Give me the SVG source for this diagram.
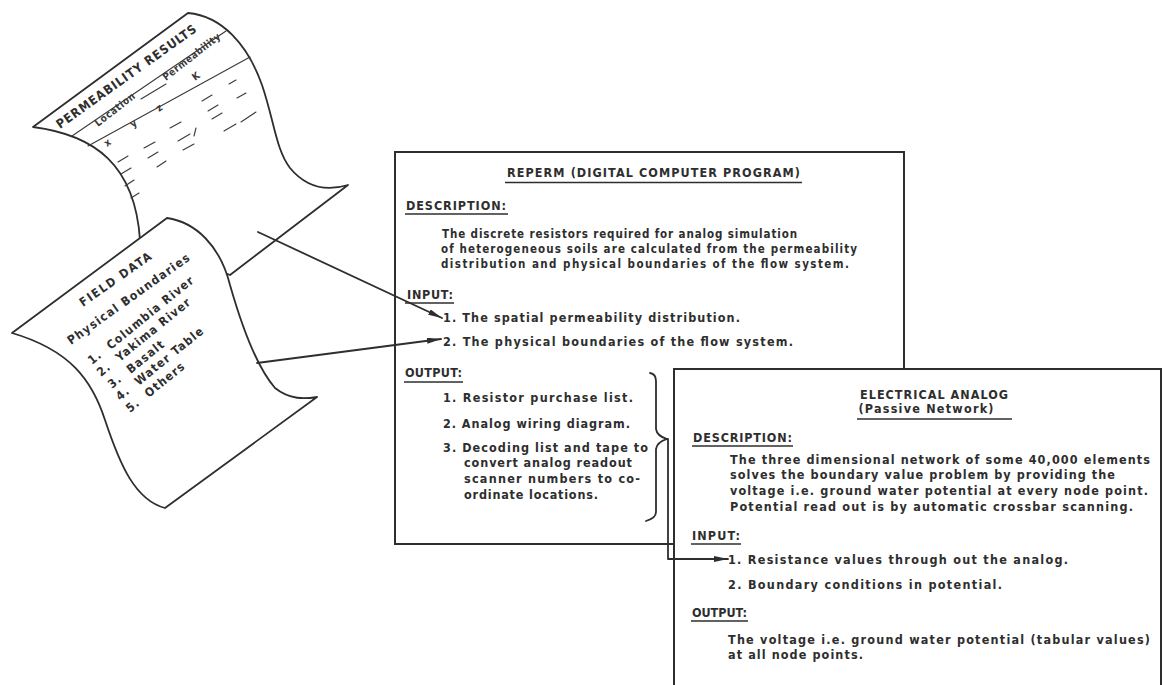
<svg xmlns="http://www.w3.org/2000/svg" width="1163" height="685" viewBox="0 0 1163 685">
  <defs>
    <style>
      .ln { fill: none; stroke: #2e2e2e; stroke-width: 1.8; stroke-linecap: round; stroke-linejoin: round; }
      .thin { fill: none; stroke: #3a3a3a; stroke-width: 1.1; stroke-linecap: round; }
      .box { fill: #ffffff; stroke: #2e2e2e; stroke-width: 2; }
      .sheet { fill: #ffffff; stroke: #2e2e2e; stroke-width: 1.8; stroke-linejoin: round; }
      .t { font-family: "DejaVu Sans Condensed", "Liberation Sans Narrow", "DejaVu Sans", sans-serif; font-weight: bold; font-size: 12.5px; fill: #2e2e2e; }
      .td { font-size: 11.5px; }
      .ts { font-family: "DejaVu Sans Condensed", "DejaVu Sans", sans-serif; font-weight: bold; font-size: 12px; fill: #2e2e2e; letter-spacing: 1.2px; }
      .tx { font-family: "DejaVu Sans Condensed", "DejaVu Sans", sans-serif; font-weight: bold; font-size: 10px; fill: #3a3a3a; }
      .ul { stroke: #2e2e2e; stroke-width: 1.4; }
    </style>
    <marker id="ah" viewBox="0 0 14 6" refX="14" refY="3" markerWidth="14" markerHeight="6" markerUnits="userSpaceOnUse" orient="auto">
      <path d="M0,0 L14,3 L0,6 Z" fill="#2e2e2e"/>
    </marker>
  </defs>

  <rect width="1163" height="685" fill="#ffffff"/>

  <!-- sheet with permeability table (behind) -->
  <g id="permeability-results">
    <path class="sheet" d="M33,127 L188,13 C222,16 248,45 262,85 C274,120 276,150 290,168 C305,186 325,192 348,185 L230,275 L140,240 C135,165 95,135 33,127 Z"/>
    <line class="thin" x1="72" y1="136" x2="226" y2="31"/>
    <line class="thin" x1="88" y1="146" x2="250" y2="57"/>
    <line class="thin" x1="141" y1="99" x2="166" y2="84"/>
    <text class="ts" transform="translate(60,129) rotate(-35.5)" textLength="170" lengthAdjust="spacing" style="font-size:12.5px">PERMEABILITY RESULTS</text>
    <text class="tx" transform="translate(98,127) rotate(-38)" textLength="48" lengthAdjust="spacing">Location</text>
    <text class="tx" transform="translate(166,81) rotate(-38)" textLength="70" lengthAdjust="spacing">Permeability</text>
    <text class="tx" transform="translate(107,147) rotate(-36)">x</text>
    <text class="tx" transform="translate(133,128) rotate(-36)">y</text>
    <text class="tx" transform="translate(159,112) rotate(-36)">z</text>
    <text class="tx" transform="translate(195,81) rotate(-36)">K</text>
    <!-- table entries -->
    <g class="thin">
      <line x1="118" y1="162" x2="128" y2="156"/>
      <line x1="121" y1="174" x2="131" y2="168"/>
      <line x1="125" y1="186" x2="134" y2="180"/>
      <line x1="131" y1="198" x2="139" y2="193"/>
      <line x1="144" y1="148" x2="155" y2="142"/>
      <line x1="148" y1="158" x2="158" y2="152"/>
      <line x1="157" y1="167" x2="166" y2="161"/>
      <line x1="170" y1="128" x2="181" y2="122"/>
      <line x1="178" y1="141" x2="190" y2="134"/>
      <line x1="183" y1="150" x2="194" y2="144"/>
      <line x1="194" y1="136" x2="196" y2="128"/>
      <line x1="202" y1="101" x2="212" y2="95"/>
      <line x1="208" y1="111" x2="218" y2="105"/>
      <line x1="212" y1="119" x2="222" y2="113"/>
      <line x1="229" y1="84" x2="236" y2="80"/>
      <line x1="237" y1="98" x2="246" y2="93"/>
      <line x1="224" y1="131" x2="236" y2="124"/>
      <line x1="241" y1="122" x2="256" y2="112"/>
    </g>
  </g>

  <!-- sheet with field data (front) -->
  <g id="field-data">
    <path class="sheet" d="M12,333 L167,218 C195,222 220,245 230,285 C240,320 255,365 275,388 C290,400 305,399 317,397 L165,508 C135,500 120,465 105,420 C92,380 70,350 12,333 Z"/>
    <text class="ts" transform="translate(83,307) rotate(-35)" textLength="86" lengthAdjust="spacing">FIELD DATA</text>
    <text class="ts" transform="translate(71,345) rotate(-35.5)" textLength="148" lengthAdjust="spacing">Physical Boundaries</text>
    <text class="ts" transform="translate(92,365) rotate(-39)">1.<tspan x="24">Columbia River</tspan></text>
    <text class="ts" transform="translate(101,377) rotate(-39)">2.<tspan x="24">Yakima River</tspan></text>
    <text class="ts" transform="translate(112,389) rotate(-39)">3.<tspan x="24">Basalt</tspan></text>
    <text class="ts" transform="translate(120,401) rotate(-39)">4.<tspan x="24">Water Table</tspan></text>
    <text class="ts" transform="translate(130,413) rotate(-39)">5.<tspan x="24">Others</tspan></text>
  </g>

  <!-- digital program box -->
  <g id="reperm">
    <rect class="box" x="395" y="152" width="509" height="392"/>
    <text class="t" x="507" y="177" textLength="293" lengthAdjust="spacing">REPERM (DIGITAL COMPUTER PROGRAM)</text>
    <line class="ul" x1="505" y1="182.5" x2="802" y2="182.5"/>
    <text class="t" x="406" y="210" textLength="100" lengthAdjust="spacing">DESCRIPTION:</text>
    <line class="ul" x1="405" y1="214" x2="508" y2="214"/>
    <text class="t td" x="442" y="238" textLength="355" lengthAdjust="spacing">The discrete resistors required for analog simulation</text>
    <text class="t td" x="441" y="253" textLength="416" lengthAdjust="spacing">of heterogeneous soils are calculated from the permeability</text>
    <text class="t td" x="441" y="268" textLength="408" lengthAdjust="spacing">distribution and physical boundaries of the flow system.</text>
    <text class="t" x="407" y="299" textLength="46" lengthAdjust="spacing">INPUT:</text>
    <line class="ul" x1="405" y1="303" x2="454" y2="303"/>
    <text class="t" x="443" y="322" textLength="297" lengthAdjust="spacing">1. The spatial permeability distribution.</text>
    <text class="t" x="443" y="346" textLength="350" lengthAdjust="spacing">2. The physical boundaries of the flow system.</text>
    <text class="t" x="405" y="377" textLength="57" lengthAdjust="spacing">OUTPUT:</text>
    <line class="ul" x1="404" y1="382" x2="463" y2="382"/>
    <text class="t" x="443" y="402" textLength="190" lengthAdjust="spacing">1. Resistor purchase list.</text>
    <text class="t" x="443" y="428" textLength="187" lengthAdjust="spacing">2. Analog wiring diagram.</text>
    <text class="t" x="443" y="452" textLength="205" lengthAdjust="spacing">3. Decoding list and tape to</text>
    <text class="t" x="464" y="467" textLength="168" lengthAdjust="spacing">convert analog readout</text>
    <text class="t" x="464" y="483" textLength="176" lengthAdjust="spacing">scanner numbers to co-</text>
    <text class="t" x="464" y="499" textLength="134" lengthAdjust="spacing">ordinate locations.</text>
    <path class="ln" d="M650,373 Q656,374 656,381 L656,429 Q657,436 667,439 Q657,442 656,449 L656,512 Q656,518 646,521"/>
  </g>

  <!-- analog network box (front) -->
  <g id="electrical-analog">
    <rect class="box" x="674" y="369" width="487" height="330"/>
    <text class="t" x="934" y="399" text-anchor="middle" textLength="148" lengthAdjust="spacing">ELECTRICAL ANALOG</text>
    <text class="t" x="926" y="413" text-anchor="middle" textLength="135" lengthAdjust="spacing">(Passive Network)</text>
    <line class="ul" x1="857" y1="419" x2="1012" y2="419"/>
    <text class="t" x="693" y="442" textLength="99" lengthAdjust="spacing">DESCRIPTION:</text>
    <line class="ul" x1="692" y1="446" x2="793" y2="446"/>
    <text class="t" x="730" y="464" textLength="420" lengthAdjust="spacing">The three dimensional network of some 40,000 elements</text>
    <text class="t" x="730" y="479" textLength="385" lengthAdjust="spacing">solves the boundary value problem by providing the</text>
    <text class="t" x="730" y="495" textLength="418" lengthAdjust="spacing">voltage i.e. ground water potential at every node point.</text>
    <text class="t" x="730" y="511" textLength="403" lengthAdjust="spacing">Potential read out is by automatic crossbar scanning.</text>
    <text class="t" x="692" y="540" textLength="48" lengthAdjust="spacing">INPUT:</text>
    <line class="ul" x1="691" y1="544" x2="741" y2="544"/>
    <text class="t" x="728" y="564" textLength="340" lengthAdjust="spacing">1. Resistance values through out the analog.</text>
    <text class="t" x="728" y="589" textLength="274" lengthAdjust="spacing">2. Boundary conditions in potential.</text>
    <text class="t" x="692" y="617" textLength="55" lengthAdjust="spacing">OUTPUT:</text>
    <line class="ul" x1="691" y1="621" x2="748" y2="621"/>
    <text class="t" x="728" y="644" textLength="422" lengthAdjust="spacing">The voltage i.e. ground water potential (tabular values)</text>
    <text class="t" x="728" y="659" textLength="135" lengthAdjust="spacing">at all node points.</text>
  </g>

  <!-- connectors -->
  <g id="connectors">
    <line class="ln" x1="258" y1="232" x2="442" y2="318" marker-end="url(#ah)"/>
    <line class="ln" x1="257" y1="363" x2="441" y2="339" marker-end="url(#ah)"/>
    <path class="ln" d="M665,439 L668,439 L668,559 L728,559" marker-end="url(#ah)"/>
  </g>
</svg>
